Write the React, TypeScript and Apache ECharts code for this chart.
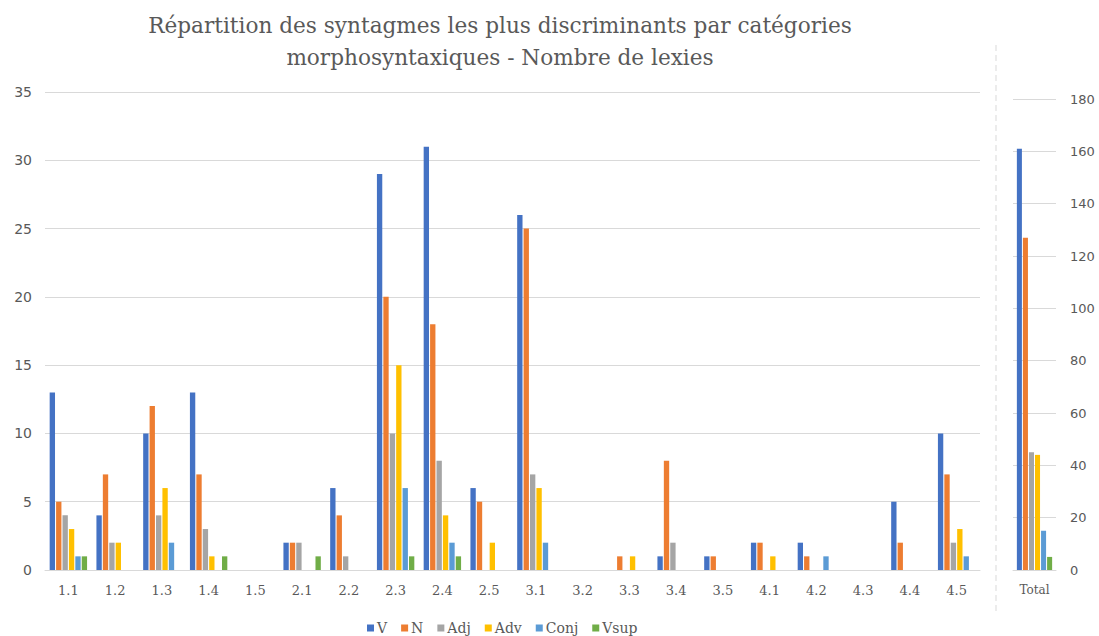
import React, { useEffect, useRef } from "react";
import * as echarts from "echarts";

const categories = ["1.1","1.2","1.3","1.4","1.5","2.1","2.2","2.3","2.4","2.5","3.1","3.2","3.3","3.4","3.5","4.1","4.2","4.3","4.4","4.5"];
const seriesNames = ["V", "N", "Adj", "Adv", "Conj", "Vsup"];
const vValues = [13,4,10,13,0,2,6,29,31,6,26,0,0,1,1,2,2,0,5,10];
const nValues = [5,7,12,7,0,2,4,20,18,5,25,0,1,8,1,2,1,0,2,7];
const adjValues = [4,2,4,3,0,2,1,10,8,0,7,0,0,2,0,0,0,0,0,2];
const advValues = [3,2,6,1,0,0,0,15,4,2,6,0,1,0,0,1,0,0,0,3];
const conjValues = [1,0,2,0,0,0,0,6,2,0,2,0,0,0,0,0,1,0,0,1];
const vsupValues = [1,0,0,1,0,1,0,1,1,0,0,0,0,0,0,0,0,0,0,0];
const totalCategory = ["Total"];
const leftTicks = [0, 35, 5];
const rightTicks = [0, 180, 20];
const colors = ["#4472C4", "#ED7D31", "#A5A5A5", "#FFC000", "#5B9BD5", "#70AD47"];

const allValues = [vValues, nValues, adjValues, advValues, conjValues, vsupValues];

export default function App() {
  const ref = useRef<HTMLDivElement>(null);
  useEffect(() => {
    if (!ref.current) return;
    const chart = echarts.init(ref.current, null, { renderer: "svg" });
    const gray = "#595959";
    const gridColor = "#D9D9D9";
    const sans = "'DejaVu Sans', sans-serif";
    const serif = "'DejaVu Serif', serif";
    const series: any[] = [];
    allValues.forEach((vals, i) => {
      series.push({
        name: seriesNames[i],
        type: "bar",
        xAxisIndex: 0,
        yAxisIndex: 0,
        data: vals.map((v) => (v === 0 ? null : v)),
        itemStyle: { color: colors[i] },
        barGap: "20%",
        barCategoryGap: "20%",
      });
    });
    allValues.forEach((vals, i) => {
      const total = vals.reduce((a, b) => a + b, 0);
      series.push({
        name: seriesNames[i],
        type: "bar",
        xAxisIndex: 1,
        yAxisIndex: 1,
        data: [total],
        itemStyle: { color: colors[i] },
        barGap: "20%",
        barCategoryGap: "18%",
      });
    });
    chart.setOption({
      animation: false,
      color: colors,
      graphic: [
        {
          type: "text",
          x: 500,
          y: 25,
          style: {
            text: "Répartition des syntagmes les plus discriminants par catégories",
            fill: gray,
            font: `21.6px ${serif}`,
            textAlign: "center",
            textVerticalAlign: "middle",
          },
        },
        {
          type: "text",
          x: 500,
          y: 57,
          style: {
            text: "morphosyntaxiques - Nombre de lexies",
            fill: gray,
            font: `21.6px ${serif}`,
            textAlign: "center",
            textVerticalAlign: "middle",
          },
        },
        {
          type: "line",
          shape: { x1: 996, y1: 45, x2: 996, y2: 612 },
          style: { stroke: gridColor, lineWidth: 1, lineDash: [6, 4] },
        },
      ],
      legend: {
        data: seriesNames,
        left: 362,
        bottom: -4,
        icon: "rect",
        itemWidth: 7,
        itemHeight: 7,
        itemGap: 14,
        textStyle: { color: gray, fontFamily: serif, fontSize: 14, padding: [0, 0, 0, -2] },
      },
      grid: [
        { left: 45, right: 119, top: 92, bottom: 66 },
        { left: 1013, right: 43, top: 99, bottom: 66 },
      ],
      xAxis: [
        {
          type: "category",
          gridIndex: 0,
          data: categories,
          axisLine: { lineStyle: { color: gridColor } },
          axisTick: { show: false },
          axisLabel: { color: gray, fontFamily: serif, fontSize: 13, margin: 14 },
        },
        {
          type: "category",
          gridIndex: 1,
          data: totalCategory,
          axisLine: { lineStyle: { color: gridColor } },
          axisTick: { show: false },
          axisLabel: { color: gray, fontFamily: serif, fontSize: 12, margin: 14 },
        },
      ],
      yAxis: [
        {
          type: "value",
          gridIndex: 0,
          min: leftTicks[0],
          max: leftTicks[1],
          interval: leftTicks[2],
          axisLine: { show: false },
          axisTick: { show: false },
          splitLine: { lineStyle: { color: gridColor } },
          axisLabel: { color: gray, fontFamily: sans, fontSize: 14, margin: 13 },
        },
        {
          type: "value",
          gridIndex: 1,
          position: "right",
          min: rightTicks[0],
          max: rightTicks[1],
          interval: rightTicks[2],
          axisLine: { show: false },
          axisTick: { show: false },
          splitLine: { lineStyle: { color: gridColor } },
          axisLabel: { color: gray, fontFamily: sans, fontSize: 13, margin: 14, align: "left" },
        },
      ],
      series,
    });
    return () => chart.dispose();
  }, []);
  return <div ref={ref} style={{ width: 1099, height: 636, position: "fixed", left: 0, top: 0, background: "#fff" }} />;
}
